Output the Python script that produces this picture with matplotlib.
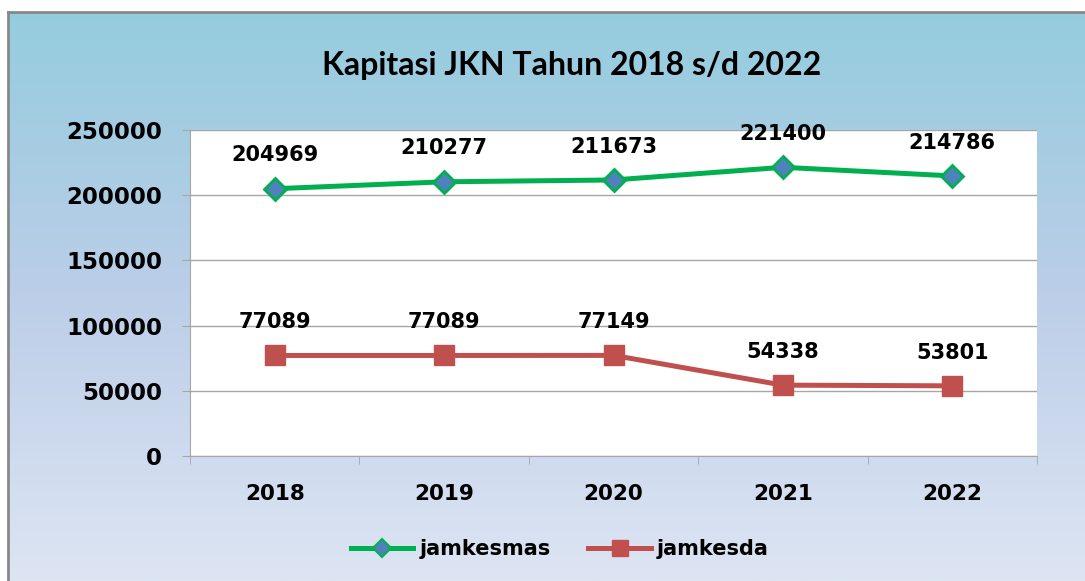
#!/usr/bin/env python
"""Kapitasi JKN line chart, 2018-2022."""
import numpy as np
import matplotlib.pyplot as plt
from matplotlib.lines import Line2D

YEARS = ["2018", "2019", "2020", "2021", "2022"]
JAMKESMAS = [204969, 210277, 211673, 221400, 214786]
JAMKESDA = [77089, 77089, 77149, 54338, 53801]
Y_TICKS = [0, 50000, 100000, 150000, 200000, 250000]

W, H, DPI = 1085, 581, 100
fig = plt.figure(figsize=(W / DPI, H / DPI), dpi=DPI)
fig.patch.set_facecolor("white")

# background gradient panel with gray border on top/left
bg = fig.add_axes([8 / W, 0, 1 - 8 / W, 1 - 12 / H])
top = np.array([148, 204, 222]) / 255
mid = np.array([188, 206, 232]) / 255
bot = np.array([221, 229, 243]) / 255
t = np.linspace(0, 1, 256)[:, None]
grad = np.where(t < 0.5, top + (mid - top) * (t / 0.5), mid + (bot - mid) * ((t - 0.5) / 0.5))
bg.imshow(grad[:, None, :], aspect="auto", extent=[0, 1, 0, 1])
bg.set_xlim(0, 1)
bg.set_ylim(0, 1)
bg.set_xticks([])
bg.set_yticks([])
for side in ["right", "bottom"]:
    bg.spines[side].set_visible(False)
for side in ["top", "left"]:
    bg.spines[side].set_color("#888888")
    bg.spines[side].set_linewidth(2)

ax = fig.add_axes([190 / W, 1 - 456 / H, (1037 - 190) / W, (456 - 130) / H])
ax.set_facecolor("white")
x = np.arange(len(YEARS))

green = "#00B050"
red = "#C0504D"
ax.plot(x, JAMKESMAS, color=green, linewidth=3.6, marker="D", markersize=11,
        markerfacecolor="#4F81BD", markeredgecolor=green, markeredgewidth=2, zorder=3)
ax.plot(x, JAMKESDA, color=red, linewidth=3.6, marker="s", markersize=15,
        markerfacecolor=red, markeredgecolor=red, zorder=3)

for xi, v in zip(x, JAMKESMAS):
    ax.annotate(str(v), (xi, v), xytext=(0, 24), textcoords="offset points",
                ha="center", va="center", fontsize=15, fontweight="bold")
for xi, v in zip(x, JAMKESDA):
    ax.annotate(str(v), (xi, v), xytext=(0, 24), textcoords="offset points",
                ha="center", va="center", fontsize=15, fontweight="bold")

ax.set_xlim(-0.5, len(YEARS) - 0.5)
ax.set_ylim(0, 250000)
ax.set_yticks(Y_TICKS)
ax.set_yticklabels([str(v) for v in Y_TICKS], fontsize=16.5, fontweight="bold")
ax.yaxis.grid(True, color="#A6A6A6", linewidth=1)
ax.set_axisbelow(True)

ax.set_xticks(x)
ax.set_xticklabels(YEARS, fontsize=15.5, fontweight="bold")
ax.tick_params(axis="x", length=0, pad=20)
ax.set_xticks(np.arange(-0.5, len(YEARS)), minor=True)
ax.tick_params(axis="x", which="minor", length=6, direction="out", color="#A6A6A6")
ax.tick_params(axis="y", length=6, direction="out", color="#A6A6A6", pad=14)

for side in ["top", "right"]:
    ax.spines[side].set_visible(False)
for side in ["left", "bottom"]:
    ax.spines[side].set_color("#A6A6A6")

fig.text(572 / W, 1 - 66 / H, "Kapitasi JKN Tahun 2018 s/d 2022", ha="center", va="center",
         fontsize=23, fontweight="bold", family="Lato")

handles = [
    Line2D([], [], color=green, linewidth=3.6, marker="D", markersize=9,
           markerfacecolor="#4F81BD", markeredgecolor=green, markeredgewidth=1.5),
    Line2D([], [], color=red, linewidth=3.6, marker="s", markersize=12,
           markerfacecolor=red, markeredgecolor=red),
]
fig.legend(handles, ["jamkesmas", "jamkesda"], loc="center", bbox_to_anchor=(560 / W, 1 - 549 / H),
           ncol=2, frameon=False, prop={"size": 15, "weight": "bold"},
           handlelength=3.0, handletextpad=0.3, columnspacing=1.8)

fig.savefig("out.png", dpi=DPI)
